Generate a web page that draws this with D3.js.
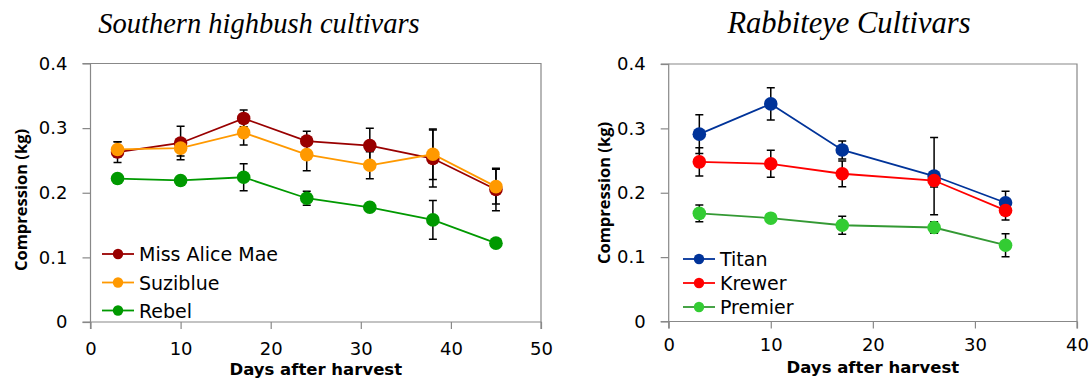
<!DOCTYPE html>
<html>
<head>
<meta charset="utf-8">
<script src="https://cdn.jsdelivr.net/npm/d3@7"></script>
<style>
  html, body { margin: 0; padding: 0; background: #fff; }
  svg { display: block; }
</style>
</head>
<body>
<svg id="chart" width="1090" height="379"></svg>
<script>
// ---------- DATA ----------
const yTicks = [0, 0.1, 0.2, 0.3, 0.4];
const yTickLabels = ["0", "0.1", "0.2", "0.3", "0.4"];

// Southern highbush
const shTitle = "Southern highbush cultivars";
const shDays = [3, 10, 17, 24, 31, 38, 45];
const shXTicks = [0, 10, 20, 30, 40, 50];
const shSeriesNames = ["Miss Alice Mae", "Suziblue", "Rebel"];
const missAliceMae    = [0.263, 0.277, 0.315, 0.280, 0.273, 0.253, 0.205];
const missAliceMaeErr = [0.016, 0.026, 0.013, 0.015, 0.027, 0.044, 0.033];
const suziblue        = [0.267, 0.269, 0.293, 0.259, 0.2425, 0.2595, 0.2095];
const suziblueErr     = [0.012, 0.012, 0.019, 0.025, 0.021, 0.039, 0.027];
const rebel           = [0.222, 0.219, 0.224, 0.1915, 0.1775, 0.158, 0.122];
const rebelErr        = [0.004, 0.003, 0.021, 0.011, 0.006, 0.030, 0.003];

// Rabbiteye
const reTitle = "Rabbiteye Cultivars";
const reDays = [3, 10, 17, 26, 33];
const reXTicks = [0, 10, 20, 30, 40];
const reSeriesNames = ["Titan", "Krewer", "Premier"];
const titan      = [0.291, 0.338, 0.2665, 0.226, 0.1845];
const titanErr   = [0.030, 0.025, 0.014, 0.060, 0.018];
const krewer     = [0.248, 0.245, 0.2295, 0.219, 0.1725];
const krewerErr  = [0.022, 0.021, 0.020, 0.010, 0.015];
const premier    = [0.168, 0.1605, 0.1495, 0.146, 0.1185];
const premierErr = [0.013, 0.003, 0.014, 0.009, 0.018];

const yLabel = "Compression (kg)";
const xLabel = "Days after harvest";

// ---------- STYLE / LAYOUT ----------
const panels = [
  {
    title: shTitle, titleX: 259, titleY: 33, titleSize: 28.5,
    days: shDays, xMax: 50, xTicks: shXTicks,
    series: [
      { name: shSeriesNames[0], values: missAliceMae, err: missAliceMaeErr, line: "#990000", fill: "#990000" },
      { name: shSeriesNames[1], values: suziblue, err: suziblueErr, line: "#FF9900", fill: "#FF9900" },
      { name: shSeriesNames[2], values: rebel, err: rebelErr, line: "#009900", fill: "#009900" }
    ],
    left: 90.5, right: 541, top: 63.5, bottom: 322,
    xTickLabelPad: 13, xLabelY: 374.5, yLabelX: 20, yLabelY: 200,
    legendX: 102, legendY: [254, 282.5, 310.5]
  },
  {
    title: reTitle, titleX: 849, titleY: 33, titleSize: 30.5,
    days: reDays, xMax: 40, xTicks: reXTicks,
    series: [
      { name: reSeriesNames[0], values: titan, err: titanErr, line: "#003399", fill: "#003399" },
      { name: reSeriesNames[1], values: krewer, err: krewerErr, line: "#FF0000", fill: "#FF0000" },
      { name: reSeriesNames[2], values: premier, err: premierErr, line: "#339933", fill: "#33CC33" }
    ],
    left: 668.7, right: 1077, top: 64, bottom: 321.5,
    xTickLabelPad: 10, xLabelY: 373, yLabelX: 603, yLabelY: 193,
    legendX: 683, legendY: [259, 283, 307]
  }
];

const svg = d3.select("#chart");
const tickFont = "DejaVu Sans, sans-serif";

panels.forEach(p => {
  const g = svg.append("g");
  const x = d3.scaleLinear().domain([0, p.xMax]).range([p.left, p.right]);
  const y = d3.scaleLinear().domain([0, 0.4]).range([p.bottom, p.top]);

  // title
  g.append("text")
    .attr("x", p.titleX).attr("y", p.titleY)
    .attr("text-anchor", "middle")
    .style("font-family", "Liberation Serif, Times New Roman, serif")
    .style("font-style", "italic")
    .style("font-size", p.titleSize + "px")
    .attr("fill", "#000")
    .text(p.title);

  // plot border (top and right)
  g.append("path")
    .attr("d", `M${p.left},${p.top}H${p.right}V${p.bottom}`)
    .attr("fill", "none").attr("stroke", "#888").attr("stroke-width", 1.2);

  // y axis
  const yAxis = g.append("g")
    .attr("transform", `translate(${p.left},0)`)
    .call(d3.axisLeft(y).tickValues(yTicks)
      .tickFormat((d, i) => yTickLabels[i])
      .tickSize(8).tickPadding(15));
  // x axis
  const xAxis = g.append("g")
    .attr("transform", `translate(0,${p.bottom})`)
    .call(d3.axisBottom(x).tickValues(p.xTicks)
      .tickFormat(d3.format("d"))
      .tickSize(7).tickPadding(p.xTickLabelPad));

  [yAxis, xAxis].forEach(a => {
    a.select(".domain").attr("stroke", "#888").attr("stroke-width", 1.2);
    a.selectAll(".tick line").attr("stroke", "#888").attr("stroke-width", 1.2);
    a.selectAll(".tick text")
      .attr("fill", "#000")
      .style("font-family", tickFont)
      .style("font-size", "18px");
  });
  yAxis.select(".domain").attr("d", `M-8,${p.top}H0V${p.bottom}H-8`);
  xAxis.select(".domain").attr("d", `M${p.left},7V0H${p.right}V7`);

  // axis titles
  g.append("text")
    .attr("transform", `translate(${p.yLabelX},${p.yLabelY}) rotate(-90)`)
    .attr("text-anchor", "middle")
    .attr("dominant-baseline", "central")
    .style("font-family", "Open Sans, sans-serif")
    .style("font-weight", "bold")
    .style("font-size", "16.5px")
    .text(yLabel);
  g.append("text")
    .attr("x", (p.left + p.right) / 2).attr("y", p.xLabelY)
    .attr("text-anchor", "middle")
    .style("font-family", tickFont)
    .style("font-weight", "bold")
    .style("font-size", "16.5px")
    .text(xLabel);

  // error bars
  const cap = 4;
  p.series.forEach(s => {
    const eb = g.append("g").attr("stroke", "#000").attr("stroke-width", 1.5).attr("fill", "none");
    s.values.forEach((v, i) => {
      const cx = x(p.days[i]);
      const y1 = y(v + s.err[i]), y0 = y(v - s.err[i]);
      eb.append("path").attr("d", `M${cx},${y1}V${y0}M${cx - cap},${y1}H${cx + cap}M${cx - cap},${y0}H${cx + cap}`);
    });
  });

  // lines + markers
  p.series.forEach(s => {
    const pts = s.values.map((v, i) => [p.days[i], v]);
    g.append("path")
      .datum(pts)
      .attr("fill", "none")
      .attr("stroke", s.line)
      .attr("stroke-width", 1.8)
      .attr("d", d3.line().x(d => x(d[0])).y(d => y(d[1])));
    g.selectAll(null).data(pts).enter().append("circle")
      .attr("cx", d => x(d[0])).attr("cy", d => y(d[1]))
      .attr("r", 6.8)
      .attr("fill", s.fill);
  });

  // legend
  p.series.forEach((s, i) => {
    const ly = p.legendY[i];
    const lg = g.append("g");
    lg.append("line")
      .attr("x1", p.legendX).attr("x2", p.legendX + 32)
      .attr("y1", ly).attr("y2", ly)
      .attr("stroke", s.line).attr("stroke-width", 1.8);
    lg.append("circle")
      .attr("cx", p.legendX + 16).attr("cy", ly).attr("r", 5.2)
      .attr("fill", s.fill);
    lg.append("text")
      .attr("x", p.legendX + 37).attr("y", ly)
      .attr("dominant-baseline", "central")
      .style("font-family", tickFont)
      .style("font-size", "19px")
      .attr("fill", "#000")
      .text(s.name);
  });
});
</script>
</body>
</html>
